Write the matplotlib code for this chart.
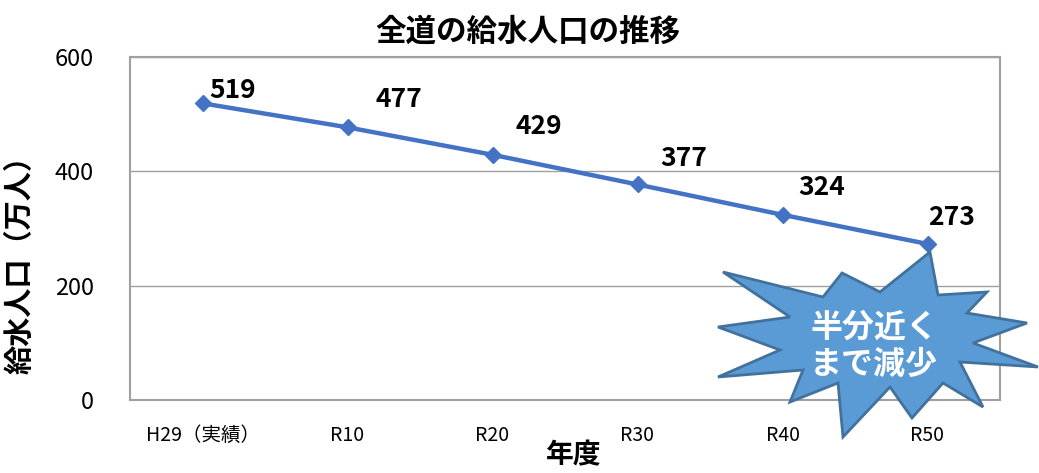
import matplotlib.pyplot as plt
from matplotlib.patches import Polygon

plt.rcParams['font.family'] = ['Noto Sans CJK JP', 'DejaVu Sans']

years = ['H29（実績）', 'R10', 'R20', 'R30', 'R40', 'R50']
population = [519, 477, 429, 377, 324, 273]
label_offsets = [(22, 9), (37, 20), (33, 20), (33, 19), (28, 20), (17, 19)]  # points

W, H = 1039, 473
fig = plt.figure(figsize=(W / 100, H / 100), dpi=100)
ax = fig.add_axes([130 / W, 1 - 400 / H, 870 / W, 343 / H])

x = list(range(len(years)))
ax.plot(x, population, color='#4472c4', linewidth=3.2, marker='D', markersize=8, zorder=3)

for i, v in enumerate(population):
    ax.annotate(str(v), (x[i], v), xytext=label_offsets[i], textcoords='offset points',
                ha='center', va='center', fontsize=19, fontweight='bold', zorder=4)

ax.set_xlim(-0.5, len(years) - 0.5)
ax.set_ylim(0, 600)
ax.set_yticks([0, 200, 400, 600])
ax.set_xticks(x)
ax.set_xticklabels(years, fontsize=14)
ax.tick_params(axis='y', labelsize=17, length=0, pad=26)
ax.tick_params(axis='x', length=0, pad=18)
ax.grid(axis='y', color='#a0a0a0', linewidth=1)
ax.set_axisbelow(True)
for s in ax.spines.values():
    s.set_color('#a0a0a0')
    s.set_linewidth(1.5)

fig.text(20 / W, 1 - 258 / H, '給水人口（万人）', fontsize=21, fontweight='bold',
         rotation=90, ha='center', va='center')
fig.text(574 / W, 1 - 455 / H, '年度', fontsize=20, fontweight='bold', ha='center', va='center')
fig.text(528 / W, 1 - 32 / H, '全道の給水人口の推移', fontsize=22, fontweight='bold', ha='center', va='center')

# starburst callout (figure pixels)
star_px = [(930, 252), (938, 295), (987, 292), (967, 313), (1027, 323), (973, 343),
           (1038, 367), (960, 362), (983, 407), (943, 383), (912, 418), (890, 387),
           (843, 437), (838, 383), (790, 402), (803, 370), (718, 377), (780, 350),
           (718, 327), (790, 317), (723, 272), (823, 297), (842, 273), (880, 292)]
star = Polygon([(px / W, 1 - py / H) for px, py in star_px], closed=True,
               transform=fig.transFigure, facecolor='#5b9bd5', edgecolor='#41719c',
               linewidth=2, zorder=5)
fig.add_artist(star)
fig.text(874 / W, 1 - 346 / H, '半分近く\nまで減少', fontsize=23, fontweight='bold', color='white',
         ha='center', va='center', linespacing=1.2, zorder=6)

fig.savefig('out.png', dpi=100)
